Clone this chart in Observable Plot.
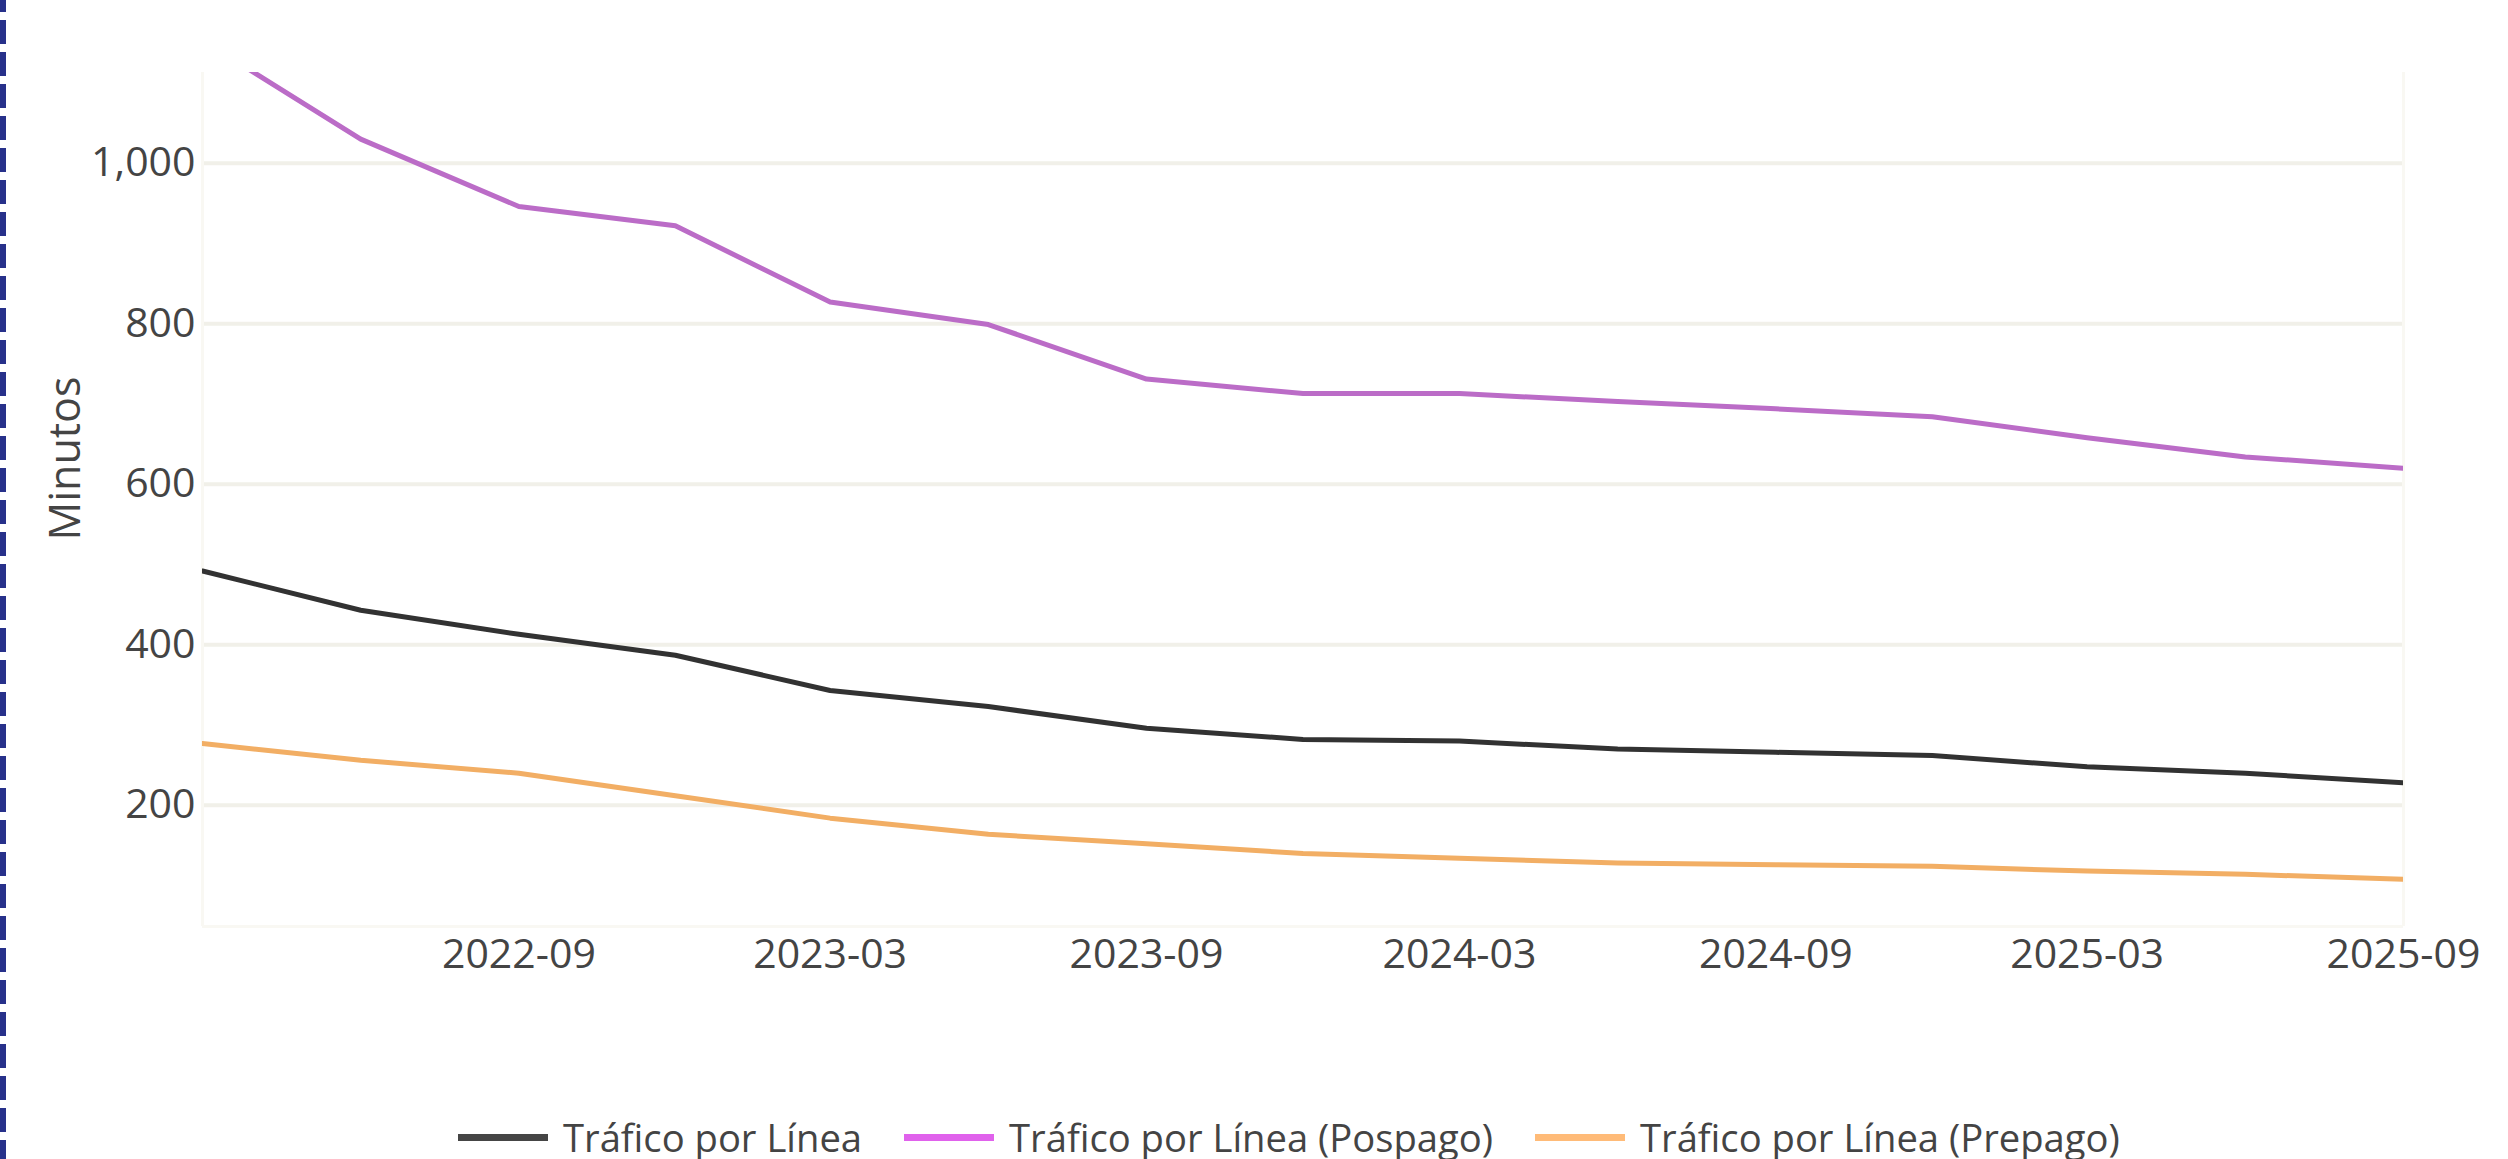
<!DOCTYPE html>
<html>
<head>
<meta charset="utf-8">
<script src="https://cdn.jsdelivr.net/npm/d3@7"></script>
<script src="https://cdn.jsdelivr.net/npm/@observablehq/plot@0.6"></script>
<style>
  html, body { margin: 0; padding: 0; background: #fff; width: 2508px; height: 1159px; overflow: hidden; }
  #wrap { position: relative; width: 2508px; height: 1159px; }
  #border { position: absolute; left: 0; top: 0; width: 6px; height: 1159px;
    background: repeating-linear-gradient(to bottom, #27318a 0 12px, transparent 12px 20px, #27318a 20px 32px); }
  #chart svg { display: block; }
  #legend { position: absolute; left: 458px; top: 1118px; height: 38px; display: flex; align-items: center;
    font-family: 'Open Sans', sans-serif; font-size: 38.2px; line-height: 38px; color: #444; white-space: nowrap; }
  .item { display: flex; align-items: center; margin-right: 42px; }
  .sw { display: inline-block; width: 90px; height: 7px; margin-right: 15px; }
</style>
</head>
<body>
<div id="wrap">
  <div id="border"></div>
  <div id="chart"></div>
  <div id="legend"></div>
</div>
<script>
// ---- data ----
const dates = ["2022-03","2022-06","2022-09","2022-12","2023-03","2023-06","2023-09","2023-12",
               "2024-03","2024-06","2024-09","2024-12","2025-03","2025-06","2025-09"];
const trafico = [492, 443, 413, 387, 343, 323, 296, 282, 280, 270, 266, 262, 248, 240, 228];
const traficoPospago = [1153, 1030, 946, 922, 827, 799, 731, 713, 713, 703, 694, 684, 658, 634, 620];
const traficoPrepago = [277, 256, 240, 212, 184, 164, 152, 140, 134, 128, 126, 124, 118, 114, 108];
const seriesNames = ["Tráfico por Línea", "Tráfico por Línea (Pospago)", "Tráfico por Línea (Prepago)"];
const xTickLabels = ["2022-09","2023-03","2023-09","2024-03","2024-09","2025-03","2025-09"];
const yTickValues = [200, 400, 600, 800, 1000];
const yAxisTitle = "Minutos";

// ---- styles ----
const lineColors = ["#323232", "#bb6cc7", "#f2ae64"];
const legendColors = ["#454545", "#e062ec", "#ffbb78"];

const parse = d3.utcParse("%Y-%m");
const allSeries = [trafico, traficoPospago, traficoPrepago];
const data = allSeries.flatMap((vals, s) =>
  dates.map((d, i) => ({date: parse(d), value: vals[i], name: seriesNames[s]})));
const xStart = parse(dates[0]);
const xEnd = parse(dates[dates.length - 1]);
const yDomain = [49, 1113];

const chart = Plot.plot({
  width: 2508,
  height: 1010,
  marginLeft: 202,
  marginRight: 105,
  marginTop: 72,
  marginBottom: 84,
  style: {fontFamily: "'Open Sans', sans-serif", fontSize: "41px", color: "#444", background: "transparent", overflow: "visible"},
  x: {type: "utc", domain: [xStart, xEnd]},
  y: {domain: yDomain},
  color: {domain: seriesNames, range: lineColors},
  marks: [
    Plot.gridY(yTickValues, {stroke: "#f1f0e9", strokeOpacity: 1, strokeWidth: 4}),
    Plot.ruleX([xStart, xEnd], {stroke: "#f9f8f3", strokeWidth: 3}),
    Plot.ruleY([yDomain[0]], {stroke: "#f9f8f3", strokeWidth: 3}),
    Plot.axisY(yTickValues, {tickSize: 0, tickPadding: 7, tickFormat: d3.format(","), label: null, fontSize: 41}),
    Plot.axisX(xTickLabels.map(parse), {tickSize: 0, tickPadding: 12, tickFormat: d3.utcFormat("%Y-%m"), label: null, fontSize: 41}),
    Plot.line(data, {x: "date", y: "value", z: "name", stroke: "name", strokeWidth: 5, clip: true}),
    Plot.text([yAxisTitle], {frameAnchor: "left", rotate: -90, dx: -136, dy: 41, fontSize: 43, fill: "#444"})
  ]
});
document.getElementById("chart").appendChild(chart);

const legend = document.getElementById("legend");
seriesNames.forEach((n, i) => {
  const it = document.createElement("div");
  it.className = "item";
  const sw = document.createElement("span");
  sw.className = "sw";
  sw.style.background = legendColors[i];
  const tx = document.createElement("span");
  tx.textContent = n;
  it.appendChild(sw);
  it.appendChild(tx);
  legend.appendChild(it);
});
</script>
</body>
</html>
